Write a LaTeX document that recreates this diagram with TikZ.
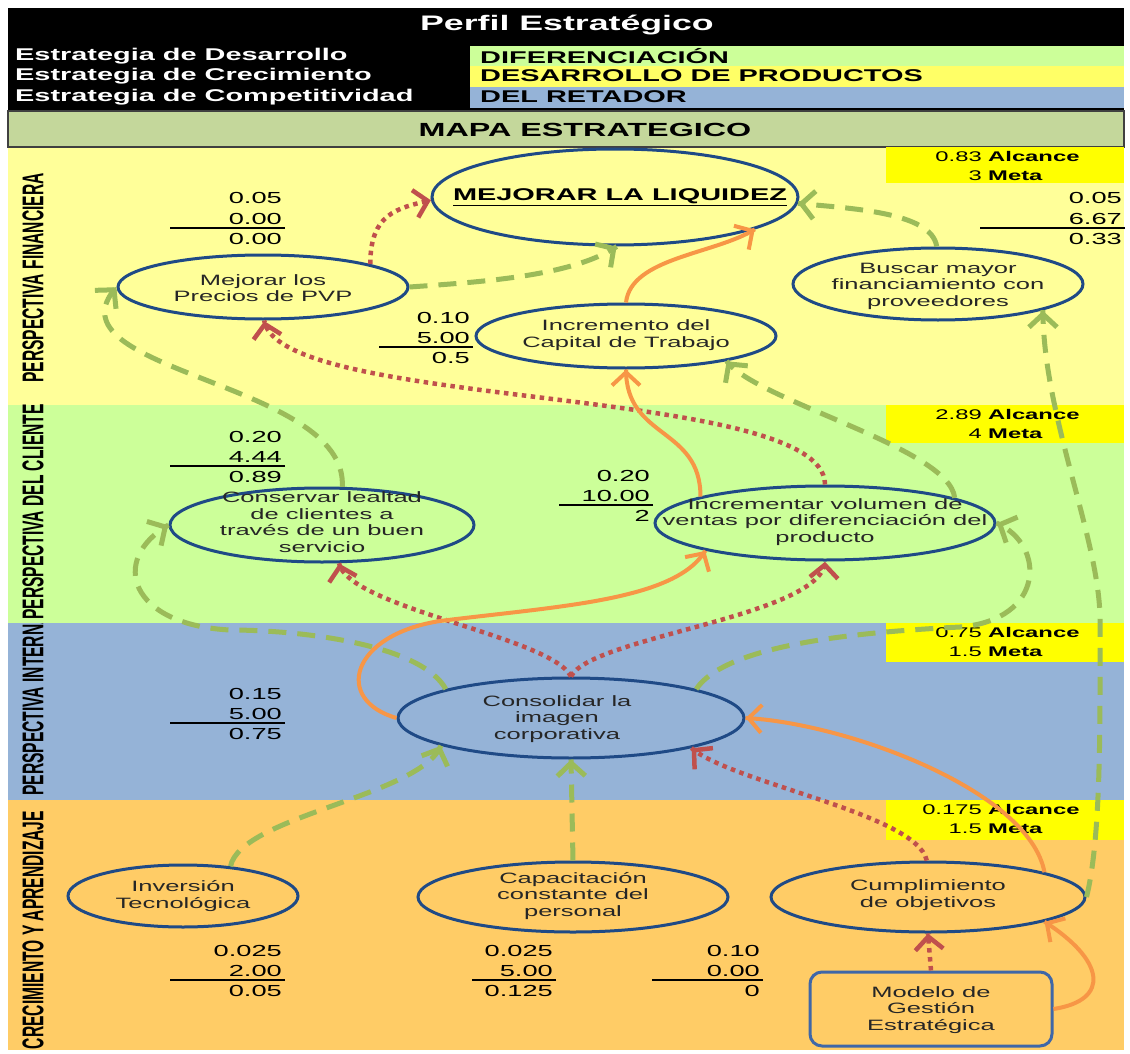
\documentclass[tikz,border=0pt]{standalone}
\usepackage{fontspec}
\setmainfont{Liberation Sans}
\newfontfamily\widefont[FakeStretch=1.7]{Liberation Sans}
\newfontfamily\tallfont[FakeStretch=0.52]{Liberation Sans}
\usetikzlibrary{shapes.geometric, arrows.meta, decorations.markings}

\definecolor{finyellow}{HTML}{FFFF99}
\definecolor{clientgreen}{HTML}{CCFF99}
\definecolor{internblue}{HTML}{95B3D7}
\definecolor{learnorange}{HTML}{FFCC66}
\definecolor{mapagreen}{HTML}{C4D79B}
\definecolor{cellyellow}{HTML}{FFFF66}
\definecolor{boxyellow}{HTML}{FFFF00}
\definecolor{goalblue}{HTML}{1F4A86}
\definecolor{modelblue}{HTML}{3F67A8}
\definecolor{linkgreen}{HTML}{9BBB59}
\definecolor{linkred}{HTML}{C0504D}
\definecolor{linkorange}{HTML}{F79646}

\tikzset{
    goal/.style={ellipse, draw=goalblue, line width=3pt, inner sep=0pt},
    goaltext/.style={align=center, text=black!85, inner sep=0pt,
        font=\widefont\fontsize{15}{16.5}\selectfont},
    num/.style={inner sep=0pt, font=\widefont\fontsize{16}{20}\selectfont},
    boxnum/.style={inner sep=0pt, font=\widefont\fontsize{14}{16}\selectfont},
    boxword/.style={inner sep=0pt, font=\widefont\bfseries\fontsize{14}{16}\selectfont},
    headrow/.style={anchor=west, inner sep=0pt, font=\widefont\bfseries\fontsize{17}{19}\selectfont},
    sidelabel/.style={rotate=90, inner sep=0pt, font=\tallfont\bfseries\fontsize{30}{32}\selectfont},
    % solid open tip at the end, whatever the dash of the line
    barb/.style={postaction={decorate}, decoration={markings,
        mark=at position 0.999 with {\pgfsetdash{}{0pt}\arrow{Straight Barb[length=13pt, width=28pt]}}}},
    green link/.style={barb, draw=linkgreen, line width=5pt, dash pattern=on 18pt off 11pt},
    red link/.style={barb, draw=linkred, line width=4.5pt, dash pattern=on 4.5pt off 4.5pt},
    orange link/.style={barb, draw=linkorange, line width=4pt}
}

% weight / value / result, right aligned with a rule under the value
\newcommand{\metrica}[7]{%
    \node[num, anchor=base east] (#1-a) at (#2,#3) {#4};
    \node[num, anchor=base east] (#1-b) at (#2,#3+20) {#5};
    \node[num, anchor=base east] (#1-c) at (#2,#3+40) {#6};
    \draw[line width=1.3pt] ([xshift=3pt, yshift=-4pt]#1-b.base east) -- ++(-#7,0);
}

% yellow corner box with the reach and the goal of each perspective
\newcommand{\alcance}[5]{%
    \fill[boxyellow] (886,#2) rectangle (1124,#3);
    \node[boxnum, anchor=base east] (#1-v) at (982,#2+14) {#4};
    \node[boxword, anchor=base west] (#1-w) at (988,#2+14) {Alcance};
    \node[boxnum, anchor=base east] (#1-m) at (982,#2+33) {#5};
    \node[boxword, anchor=base west] (#1-n) at (988,#2+33) {Meta};
}

\begin{document}
\begin{tikzpicture}[x=1pt, y=-1pt]
    \useasboundingbox (0,0) rectangle (1130,1054);

    % Header table
        \fill[black] (8,8) rectangle (1124,111);
        \fill[clientgreen] (470,46) rectangle (1124,66);
        \fill[cellyellow] (470,66) rectangle (1124,87);
        \fill[internblue] (470,87) rectangle (1124,108);
        \node[font=\widefont\bfseries\fontsize{21}{24}\selectfont, text=white] (titulo) at (567,25) {Perfil Estratégico};
        \node[headrow, text=white] (desarrollo) at (15,56) {Estrategia de Desarrollo};
        \node[headrow, text=white] (crecimiento) at (15,76) {Estrategia de Crecimiento};
        \node[headrow, text=white] (competitividad) at (15,97) {Estrategia de Competitividad};
        \node[headrow] (diferenciacion) at (480,56) {DIFERENCIACIÓN};
        \node[headrow] (productos) at (480,76) {DESARROLLO DE PRODUCTOS};
        \node[headrow] (retador) at (480,97) {DEL RETADOR};
        \draw[fill=mapagreen, draw=black!75, line width=1.5pt] (8,111) rectangle (1124,147);
        \node[font=\widefont\bfseries\fontsize{19}{22}\selectfont] (mapa) at (585,130) {MAPA ESTRATEGICO};

    % The four perspectives
        \fill[finyellow] (8,148) rectangle (1124,405);
        \fill[clientgreen] (8,405) rectangle (1124,623);
        \fill[internblue] (8,623) rectangle (1124,800);
        \fill[learnorange] (8,800) rectangle (1124,1050);

        \node[sidelabel] (financiera) at (33,278) {PERSPECTIVA FINANCIERA};
        \node[sidelabel, anchor=west] (cliente) at (33,620) {PERSPECTIVA DEL CLIENTE};
        \begin{scope}
            \clip (8,623) rectangle (60,800);
            \node[sidelabel, anchor=west] (interna) at (33,796) {PERSPECTIVA INTERNA};
        \end{scope}
        \node[sidelabel] (aprendizaje) at (33,930) {CRECIMIENTO Y APRENDIZAJE};

        \alcance{fin}{147}{183}{0.83}{3}
        \alcance{cli}{405}{443}{2.89}{4}
        \alcance{int}{623}{662}{0.75}{1.5}
        \alcance{apr}{800}{840}{0.175}{1.5}

    % Indicators
        \metrica{precios-m}{282}{204}{0.05}{0.00}{0.00}{115}
        \metrica{capital-m}{470}{323}{0.10}{5.00}{0.5}{94}
        \metrica{buscar-m}{1122}{204}{0.05}{6.67}{0.33}{145}
        \metrica{lealtad-m}{282}{442}{0.20}{4.44}{0.89}{115}
        \metrica{volumen-m}{650}{481}{0.20}{10.00}{2}{94}
        \metrica{imagen-m}{282}{699}{0.15}{5.00}{0.75}{115}
        \metrica{inversion-m}{282}{956}{0.025}{2.00}{0.05}{115}
        \metrica{capacitacion-m}{553}{956}{0.025}{5.00}{0.125}{84}
        \metrica{cumplimiento-m}{760}{956}{0.10}{0.00}{0}{111}

    % First, locate each of the objectives and name them
        \node[goal, minimum width=366, minimum height=96] (liquidez) at (615,197) {};
        \node[goal, minimum width=290, minimum height=64] (precios) at (263,287) {};
        \node[goal, minimum width=300, minimum height=64] (capital) at (626,336) {};
        \node[goal, minimum width=290, minimum height=72] (buscar) at (938,284) {};
        \node[goal, minimum width=304, minimum height=74] (lealtad) at (322,525) {};
        \node[goal, minimum width=340, minimum height=74] (volumen) at (825,523) {};
        \node[goal, minimum width=346, minimum height=80] (imagen) at (571,718) {};
        \node[goal, minimum width=230, minimum height=62] (inversion) at (183,896) {};
        \node[goal, minimum width=310, minimum height=70] (capacitacion) at (573,897) {};
        \node[goal, minimum width=314, minimum height=70] (cumplimiento) at (928,897) {};
        \node[draw=modelblue, line width=3pt, rounded corners=12pt, minimum width=242, minimum height=74] (modelo) at (931,1009) {};

    % Their texts
        \node[goaltext, font=\widefont\bfseries\fontsize{17}{20}\selectfont, text=black] (liquidez-t) at (620,197) {\underline{MEJORAR LA LIQUIDEZ}};
        \node[goaltext] (precios-t) at (263,288) {Mejorar los\\Precios de PVP};
        \node[goaltext] (capital-t) at (626,335) {Incremento del\\Capital de Trabajo};
        \node[goaltext] (buscar-t) at (938,286) {Buscar mayor\\financiamiento con\\proveedores};
        \node[goaltext] (lealtad-t) at (322,522) {Conservar lealtad\\de clientes a\\través de un buen\\servicio};
        \node[goaltext] (volumen-t) at (825,522) {Incrementar volumen de\\ventas por diferenciación del\\producto};
        \node[goaltext] (imagen-t) at (557,719) {Consolidar la\\imagen\\corporativa};
        \node[goaltext] (inversion-t) at (183,896) {Inversión\\Tecnológica};
        \node[goaltext] (capacitacion-t) at (573,896) {Capacitación\\constante del\\personal};
        \node[goaltext] (cumplimiento-t) at (928,895) {Cumplimiento\\de objetivos};
        \node[goaltext] (modelo-t) at (931,1010) {Modelo de\\Gestión\\Estratégica};

    % Now draw the links:
        \draw[green link] (precios.east) .. controls +(70,-5) and +(-45,30) .. (liquidez.-88);
        \draw[red link] (precios.12) .. controls +(0,-50) and +(-35,8) .. (liquidez.181);
        \draw[orange link] (capital.north) .. controls +(5,-45) and +(-40,25) .. (liquidez.-13);
        \draw[green link] (buscar.92) .. controls +(-5,-35) and +(50,5) .. (liquidez.-2);
        \draw[green link] (lealtad.62) .. controls +(6,-106) and +(-75,85) .. (precios.west);
        \draw[red link] (volumen.north) .. controls +(0,-100) and +(15,90) .. (precios.-88);
        \draw[green link] (volumen.11) .. controls +(-5,-50) and +(30,40) .. (capital.-14);
        \draw[orange link] (volumen.168) .. controls +(0,-70) and +(0,70) .. (capital.south);
        \draw[green link] (cumplimiento.east) .. controls +(15,-60) and +(0,100) .. (1100,620)
            .. controls +(0,-80) and +(0,105) .. (buscar.-14);

        \draw[green link] (imagen.167) .. controls +(-25,-45) and +(70,0) .. (230,630)
            .. controls +(-100,-5) and +(-60,35) .. (lealtad.west);
        \draw[red link] (imagen.north) .. controls +(-20,-40) and +(10,45) .. (lealtad.-66);
        \draw[red link] (imagen.north) .. controls +(20,-40) and +(-3,55) .. (volumen.south);
        \draw[orange link] (imagen.west) .. controls +(-63,-18) and +(-90,14) .. (440,621)
            .. controls +(120,-15) and +(-30,50) .. (volumen.193);
        \draw[green link] (imagen.13) .. controls +(30,-45) and +(-100,5) .. (960,627)
            .. controls +(85,-7) and +(50,22) .. (volumen.east);

        \draw[green link] (inversion.32) .. controls +(10,-50) and +(-20,50) .. (imagen.192);
        \draw[green link] (capacitacion.north) -- (imagen.south);
        \draw[red link] (cumplimiento.92) .. controls +(-10,-47) and +(40,35) .. (imagen.-14);
        \draw[orange link] (cumplimiento.12) .. controls +(-15,-82) and +(100,5) .. (imagen.east);

        \draw[red link] (modelo.north) -- (cumplimiento.south);
        \draw[orange link] (modelo.east) .. controls +(58,-9) and +(60,38) .. (cumplimiento.-12);
\end{tikzpicture}
\end{document}
